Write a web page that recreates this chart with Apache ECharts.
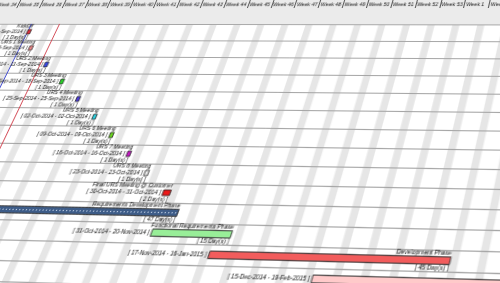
<!DOCTYPE html>
<html>
<head>
<meta charset="utf-8">
<script src="https://cdn.jsdelivr.net/npm/echarts@6/dist/echarts.min.js"></script>
<style>
  html, body { margin: 0; padding: 0; width: 500px; height: 283px; overflow: hidden; background: #fff; }
  #main { position: absolute; left: 0; top: 0; width: 686px; height: 330px; transform-origin: 0 0; }
</style>
</head>
<body>
<div id="main"></div>
<script>
// week ticks, one every 7 days from 11-Aug-2014
const weekLabels = ['Week 33', 'Week 34', 'Week 35', 'Week 36', 'Week 37', 'Week 38', 'Week 39', 'Week 40',
  'Week 41', 'Week 42', 'Week 43', 'Week 44', 'Week 45', 'Week 46', 'Week 47', 'Week 48', 'Week 49',
  'Week 50', 'Week 51', 'Week 52', 'Week 53', 'Week 1', 'Week 2', 'Week 3', 'Week 4', 'Week 5',
  'Week 6', 'Week 7', 'Week 8', 'Week 9'];

const taskNames = ['KickOff', 'URS 1 Meeting', 'URS 2 Meeting', 'URS 3 Meeting', 'URS 4 Meeting',
  'URS 5 Meeting', 'URS 6 Meeting', 'URS 7 Meeting', 'URS 8 Meeting', 'Final URS Meeting @ Customer',
  'Requirements Development Phase', 'Functional Requirements Phase', 'Development Phase', ''];
const taskStarts = ['2014-09-01', '2014-09-04', '2014-09-11', '2014-09-18', '2014-09-25', '2014-10-02',
  '2014-10-09', '2014-10-16', '2014-10-23', '2014-10-30', '2014-09-01', '2014-10-31', '2014-11-17', '2014-12-15'];
const taskEnds = ['2014-09-01', '2014-09-04', '2014-09-11', '2014-09-18', '2014-09-25', '2014-10-02',
  '2014-10-09', '2014-10-16', '2014-10-23', '2014-10-31', '2014-11-04', '2014-11-20', '2015-01-16', '2015-02-19'];
const taskDays = [1, 1, 1, 1, 1, 1, 1, 1, 1, 2, 47, 15, 45, 49];

const projectStart = '2014-09-01';
const statusLine = '2014-09-09T12:00:00Z';

// colours per task
const taskColors = ['#e3303c', '#f08a8a', '#3a4cf0', '#28d828', '#4a3ad8', '#2ad0e0', '#6ad81a', '#cc18cc',
  '#f2f2f2', '#ee1818', 'pattern', '#98ee98', '#f25c5c', '#ffcaca'];

const DAY = 86400000;
const axisOrigin = Date.UTC(2014, 7, 11);
const dayOf = s => (Date.parse(s) - axisOrigin) / DAY;
const MON = ['Jan', 'Feb', 'Mar', 'Apr', 'May', 'Jun', 'Jul', 'Aug', 'Sep', 'Oct', 'Nov', 'Dec'];
const fmt = s => {
  const d = new Date(Date.parse(s));
  return String(d.getUTCDate()).padStart(2, '0') + '-' + MON[d.getUTCMonth()] + '-' + d.getUTCFullYear();
};

// dotted fill of the summary bar
const dots = document.createElement('canvas');
dots.width = 3; dots.height = 3;
const dctx = dots.getContext('2d');
dctx.fillStyle = '#3d5c88'; dctx.fillRect(0, 0, 3, 3);
dctx.fillStyle = '#c8d6ea'; dctx.fillRect(1, 1, 1, 1);

const FONT = '"Liberation Sans", Arial, sans-serif';
const gridTop = 60;
const rowH = 17;

const chart = echarts.init(document.getElementById('main'), null, { renderer: 'canvas' });

const option = {
  animation: false,
  backgroundColor: '#fff',
  graphic: [{
    type: 'rect', z: -100, silent: true,
    shape: { x: 0, y: 0, width: 686, height: gridTop },
    style: { fill: '#ebebeb' }
  }],
  grid: { left: 0, right: 0, top: gridTop, height: taskNames.length * rowH },
  xAxis: {
    type: 'value', position: 'top', offset: 15, min: 0, max: (weekLabels.length - 1) * 7, interval: 7,
    axisLine: { show: false },
    axisTick: { show: true, length: 9, lineStyle: { color: '#333', width: 0.8 } },
    axisLabel: {
      margin: 1, fontSize: 5, fontFamily: FONT, color: '#111', align: 'left', verticalAlign: 'bottom',
      padding: [0, 0, 0, 1.5],
      formatter: v => weekLabels[Math.round(v / 7)] || ''
    },
    splitLine: { show: false }
  },
  yAxis: {
    type: 'category', inverse: true, data: taskNames, z: 3,
    axisLine: { show: false }, axisTick: { show: false },
    axisLabel: { show: false, interval: 0 },
    splitLine: { show: true, interval: 0, lineStyle: { color: '#a6a6a6', width: 1 } }
  },
  series: [
    {
      // weekend shading
      type: 'custom', z: 1, silent: true, clip: false,
      data: weekLabels.map((w, i) => [i * 7, 0]),
      encode: { x: 0, y: 1 },
      renderItem(params, api) {
        const a = api.coord([api.value(0) + 5, 0]);
        const b = api.coord([api.value(0) + 7, 0]);
        const cs = params.coordSys;
        return {
          type: 'rect',
          shape: { x: a[0], y: cs.y, width: b[0] - a[0], height: cs.height + 40 },
          style: { fill: '#e6e6e6' }
        };
      },
      markLine: {
        silent: true, symbol: 'none', label: { show: false },
        data: [
          { xAxis: dayOf(projectStart), lineStyle: { color: '#3a44d0', width: 0.9, type: 'solid' } },
          { xAxis: dayOf(statusLine), lineStyle: { color: '#d0404c', width: 0.9, type: 'solid' } }
        ]
      }
    },
    {
      type: 'custom', z: 5, silent: true, clip: false,
      data: taskNames.map((n, i) => [dayOf(taskStarts[i]), dayOf(taskEnds[i]) + 1, i]),
      encode: { x: [0, 1], y: 2 },
      renderItem(params, api) {
        const i = params.dataIndex;
        const s = api.coord([api.value(0), i]);
        const e = api.coord([api.value(1), i]);
        const h = taskDays[i] > 2 ? 6 : 5;
        const top = s[1] - h / 2;
        const col = taskColors[i];
        const fill = col === 'pattern' ? { image: dots, repeat: 'repeat' } : col;
        const txt = (text, x, y, align, va) => ({
          type: 'text',
          style: { text, x, y, align, verticalAlign: va, fontSize: 5, fontFamily: FONT, fill: '#111' }
        });
        const kids = [
          { type: 'rect', shape: { x: s[0], y: top, width: e[0] - s[0], height: h },
            style: { fill, stroke: '#2a2a2a', lineWidth: 0.8 } },
          txt(taskNames[i], e[0], top - 0.5, 'right', 'bottom'),
          txt('[ ' + fmt(taskStarts[i]) + ' - ' + fmt(taskEnds[i]) + ' ]', s[0] - 2, s[1], 'right', 'middle')
        ];
        if (taskDays[i] != null) kids.push(txt('[ ' + taskDays[i] + ' Day(s) ]', e[0], top + h + 1, 'right', 'top'));
        return { type: 'group', children: kids };
      }
    }
  ]
};
chart.setOption(option);

// perspective of the picture: chart points (date, row; null = week tick foot) -> screen
const warpPins = [
  ['2014-08-25', null, 15.3, 8], ['2014-09-22', null, 107, 8], ['2014-10-20', null, 200, 8],
  ['2014-11-17', null, 294, 8], ['2014-12-15', null, 391, 8], ['2015-01-12', null, 488, 8],
  ['2014-09-01T12:00:00Z', 0, 29.5, 32],
  ['2014-09-04T12:00:00Z', 1, 31, 48.5],
  ['2014-09-11T12:00:00Z', 2, 46, 64.5],
  ['2014-09-18T12:00:00Z', 3, 61.5, 81.5],
  ['2014-09-25T12:00:00Z', 4, 78.5, 99.5],
  ['2014-10-02T12:00:00Z', 5, 95, 117.5],
  ['2014-10-09T12:00:00Z', 6, 111.5, 135],
  ['2014-10-16T12:00:00Z', 7, 129, 153.5],
  ['2014-10-23T12:00:00Z', 8, 146, 170.5],
  ['2014-10-31', 9, 166.5, 193.5],
  ['2014-11-05', 10, 178, 211],
  ['2014-10-31', 11, 151.5, 234],
  ['2014-11-21', 11, 232, 234.5],
  ['2014-11-17', 12, 208, 254.5],
  ['2015-01-17', 12, 450, 261],
  ['2014-12-15', 13, 312, 280]
];

function solveWarp(src, dst) {
  const N = Array.from({ length: 8 }, () => new Array(9).fill(0));
  const add = (row, rhs) => {
    for (let i = 0; i < 8; i++) {
      for (let j = 0; j < 8; j++) N[i][j] += row[i] * row[j];
      N[i][8] += row[i] * rhs;
    }
  };
  src.forEach(([x0, y0], k) => {
    const x = x0 / 100, y = y0 / 100, X = dst[k][0] / 100, Y = dst[k][1] / 100;
    add([x, y, 1, 0, 0, 0, -x * X, -y * X], X);
    add([0, 0, 0, x, y, 1, -x * Y, -y * Y], Y);
  });
  for (let c = 0; c < 8; c++) {
    let p = c;
    for (let r = c + 1; r < 8; r++) if (Math.abs(N[r][c]) > Math.abs(N[p][c])) p = r;
    [N[c], N[p]] = [N[p], N[c]];
    for (let r = 0; r < 8; r++) {
      if (r === c) continue;
      const f = N[r][c] / N[c][c];
      for (let k = c; k < 9; k++) N[r][k] -= f * N[c][k];
    }
  }
  const h = N.map((row, i) => row[8] / row[i]);
  return [[h[0], h[1], h[2] * 100], [h[3], h[4], h[5] * 100], [h[6] / 100, h[7] / 100, 1]];
}
const apply = (H, [x, y]) => {
  const w = H[2][0] * x + H[2][1] * y + H[2][2];
  return [(H[0][0] * x + H[0][1] * y + H[0][2]) / w, (H[1][0] * x + H[1][1] * y + H[1][2]) / w];
};

const dst = warpPins.map(p => [p[2], p[3]]);
const srcFor = off => warpPins.map(([d, row]) => [
  chart.convertToPixel({ xAxisIndex: 0 }, dayOf(d)),
  row == null ? gridTop - off : chart.convertToPixel({ yAxisIndex: 0 }, row)
]);
// the header depth is free: take the one that fits best
let best = null;
for (let off = 6; off <= 40; off += 0.5) {
  const src = srcFor(off);
  const H = solveWarp(src, dst);
  const err = src.reduce((s, p, k) => {
    const q = apply(H, p);
    return s + (q[0] - dst[k][0]) ** 2 + (q[1] - dst[k][1]) ** 2;
  }, 0);
  if (!best || err < best.err) best = { off, H, err };
}
chart.setOption({ xAxis: { offset: best.off } });
const H = best.H;
document.getElementById('main').style.transform =
  `matrix3d(${H[0][0]},${H[1][0]},0,${H[2][0]},${H[0][1]},${H[1][1]},0,${H[2][1]},0,0,1,0,${H[0][2]},${H[1][2]},0,1)`;
</script>
</body>
</html>
